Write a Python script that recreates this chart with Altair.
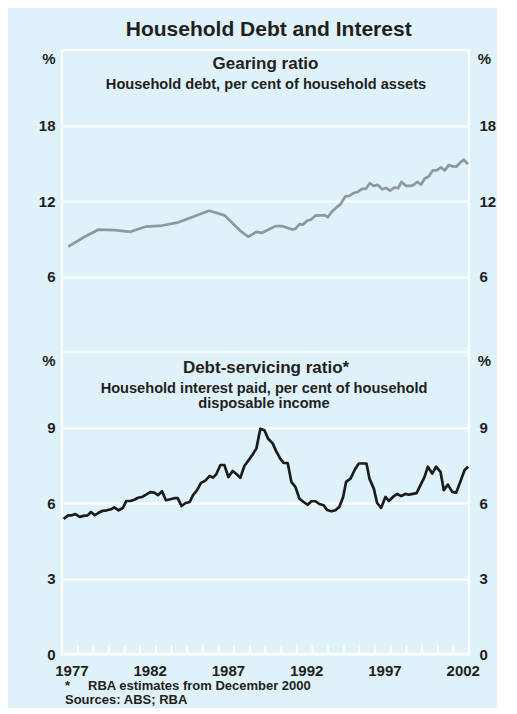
import altair as alt
import pandas as pd

# ---------------- data ----------------
gear_years = [1977.40, 1978.39, 1979.34, 1980.37, 1981.37, 1982.36, 1983.39, 1984.37,
              1985.41, 1986.39, 1987.39, 1988.37, 1988.90, 1989.42, 1989.78, 1990.21,
              1990.63, 1991.10, 1991.38, 1991.70, 1991.91, 1992.17, 1992.38, 1992.66,
              1992.91, 1993.19, 1993.51, 1993.76, 1993.98, 1994.25, 1994.51, 1994.79,
              1995.10, 1995.36, 1995.64, 1995.89, 1996.17, 1996.43, 1996.66, 1996.92,
              1997.17, 1997.45, 1997.70, 1997.96, 1998.23, 1998.47, 1998.68, 1998.98,
              1999.25, 1999.47, 1999.68, 1999.94, 2000.17, 2000.43, 2000.68, 2000.96,
              2001.21, 2001.45, 2001.70, 2001.96, 2002.19, 2002.45, 2002.66, 2002.94]
gear_values = [8.37, 9.12, 9.73, 9.68, 9.55, 9.97, 10.05, 10.28,
               10.76, 11.23, 10.86, 9.65, 9.16, 9.55, 9.47, 9.73,
               10.00, 10.00, 9.87, 9.73, 9.79, 10.16, 10.11, 10.43,
               10.53, 10.83, 10.85, 10.88, 10.72, 11.17, 11.47, 11.73,
               12.37, 12.40, 12.64, 12.72, 12.96, 12.99, 13.41, 13.20,
               13.28, 12.93, 13.04, 12.83, 13.07, 13.01, 13.52, 13.20,
               13.20, 13.28, 13.52, 13.31, 13.79, 13.95, 14.43, 14.45,
               14.67, 14.43, 14.85, 14.75, 14.72, 15.07, 15.28, 14.93]

dsr_years = [1977.10, 1977.40, 1977.64, 1977.85, 1978.13, 1978.38, 1978.64, 1978.85,
             1979.09, 1979.34, 1979.60, 1979.87, 1980.13, 1980.34, 1980.62, 1980.88,
             1981.11, 1981.37, 1981.62, 1981.86, 1982.11, 1982.37, 1982.64, 1982.90,
             1983.13, 1983.39, 1983.64, 1983.92, 1984.17, 1984.39, 1984.64, 1984.90,
             1985.16, 1985.37, 1985.63, 1985.88, 1986.16, 1986.44, 1986.65, 1986.86,
             1987.12, 1987.37, 1987.63, 1987.90, 1988.18, 1988.39, 1988.65, 1988.93,
             1989.18, 1989.42, 1989.67, 1989.93, 1990.17, 1990.46, 1990.67, 1990.95,
             1991.16, 1991.42, 1991.65, 1991.91, 1992.17, 1992.44, 1992.70, 1992.93,
             1993.19, 1993.44, 1993.72, 1993.93, 1994.21, 1994.47, 1994.72, 1994.96,
             1995.15, 1995.43, 1995.71, 1995.96, 1996.22, 1996.45, 1996.64, 1996.92,
             1997.13, 1997.39, 1997.66, 1997.88, 1998.14, 1998.41, 1998.67, 1998.94,
             1999.16, 1999.41, 1999.65, 1999.90, 2000.16, 2000.37, 2000.65, 2000.90,
             2001.18, 2001.39, 2001.65, 2001.93, 2002.18, 2002.46, 2002.72, 2002.95]
dsr_values = [5.37, 5.51, 5.51, 5.56, 5.45, 5.49, 5.51, 5.64,
              5.52, 5.61, 5.69, 5.71, 5.75, 5.83, 5.71, 5.80,
              6.08, 6.08, 6.13, 6.21, 6.24, 6.33, 6.43, 6.41,
              6.31, 6.47, 6.11, 6.15, 6.19, 6.19, 5.88, 6.00,
              6.04, 6.31, 6.51, 6.80, 6.89, 7.08, 7.01, 7.15,
              7.51, 7.51, 7.03, 7.27, 7.13, 7.00, 7.47, 7.71,
              7.93, 8.17, 8.95, 8.89, 8.55, 8.37, 8.07, 7.75,
              7.59, 7.59, 6.84, 6.64, 6.17, 6.04, 5.93, 6.07,
              6.07, 5.96, 5.91, 5.72, 5.67, 5.71, 5.85, 6.24,
              6.84, 6.97, 7.33, 7.57, 7.57, 7.57, 6.97, 6.57,
              6.00, 5.81, 6.24, 6.08, 6.24, 6.36, 6.28, 6.36,
              6.33, 6.36, 6.39, 6.71, 7.04, 7.44, 7.17, 7.44,
              7.24, 6.51, 6.73, 6.44, 6.41, 6.87, 7.31, 7.44]

year_ticks = list(range(1978, 2003))
year_labels = [1977, 1982, 1987, 1992, 1997, 2002]
gear_ticks = [6, 12, 18]
dsr_ticks = [0, 3, 6, 9]
gear_domain = [0, 24]
dsr_domain = [0, 12]
x_domain = [1977, 2003]

title_text = "Household Debt and Interest"
top_title = "Gearing ratio"
top_sub = "Household debt, per cent of household assets"
bot_title = "Debt-servicing ratio*"
bot_sub1 = "Household interest paid, per cent of household"
bot_sub2 = "disposable income"
foot_star = "*"
foot_note = "RBA estimates from December 2000"
foot_src = "Sources: ABS; RBA"

# ---------------- styling ----------------
BG = "#dff1f9"
TXT = "#231f20"
GREY = "#8e989d"
BLACK = "#1c1c1c"
FONT = "Liberation Sans"
W, H = 407, 302

gear_df = pd.DataFrame({"year": gear_years, "value": gear_values})
dsr_df = pd.DataFrame({"year": dsr_years, "value": dsr_values})
tick_df = pd.DataFrame({"year": year_ticks})
label_pos = [y + 0.6 for y in year_labels]

xscale = alt.Scale(domain=x_domain, nice=False, zero=False)


def txt(text, x, y, size, align="center", baseline="alphabetic", **kw):
    return alt.Chart(alt.Data(values=[{}])).mark_text(
        text=text, fontSize=size, fontWeight="bold", font=FONT, color=TXT,
        align=align, baseline=baseline, **kw
    ).encode(x=alt.value(x), y=alt.value(y))


def left_axis(vals):
    return alt.Axis(values=vals, orient="left", grid=True, labelPadding=7, title="")


def right_axis(vals):
    return alt.Axis(values=vals, orient="right", grid=False, labelPadding=10, title="")


# ---------------- top panel ----------------
gscale = alt.Scale(domain=gear_domain, nice=False, zero=False)
gear_line = alt.Chart(gear_df).mark_line(color=GREY, strokeWidth=2.7, strokeJoin="round").encode(
    x=alt.X("year:Q", scale=xscale, axis=None),
    y=alt.Y("value:Q", scale=gscale, axis=left_axis(gear_ticks)),
)
gear_right = alt.Chart(gear_df).mark_line(opacity=0).encode(
    x=alt.X("year:Q", scale=xscale, axis=None),
    y=alt.Y("value:Q", scale=gscale, axis=right_axis(gear_ticks)),
)
# invisible anchor fixing the top-left corner of the whole picture
anchor = alt.Chart(alt.Data(values=[{}])).mark_rule(color=BG, strokeWidth=0.01).encode(
    x=alt.value(-52), x2=alt.value(-51), y=alt.value(-40), y2=alt.value(-40)
)
top = alt.layer(
    gear_line, gear_right,
    txt(title_text, 206.7, -13.7, 21),
    txt(top_title, 203.5, 19, 17),
    txt(top_sub, 204, 38.7, 14.6),
    txt("%", -13, 13.7, 15),
    txt("%", 422.5, 13.7, 15),
    anchor,
).resolve_scale(y="independent").properties(width=W, height=H)

# ---------------- bottom panel ----------------
dscale = alt.Scale(domain=dsr_domain, nice=False, zero=False)
xaxis = alt.Axis(values=label_pos, labelExpr="'' + floor(datum.value)", grid=False,
                 labelPadding=9, labelFlush=False, labelOverlap=False, title="")
dsr_line = alt.Chart(dsr_df).mark_line(color=BLACK, strokeWidth=2.7, strokeJoin="round").encode(
    x=alt.X("year:Q", scale=xscale, axis=xaxis),
    y=alt.Y("value:Q", scale=dscale, axis=left_axis(dsr_ticks)),
)
dsr_right = alt.Chart(dsr_df).mark_line(opacity=0).encode(
    x=alt.X("year:Q", scale=xscale, axis=xaxis),
    y=alt.Y("value:Q", scale=dscale, axis=right_axis(dsr_ticks)),
)
ticks = alt.Chart(tick_df).mark_rule(color="white", strokeWidth=1.8).encode(
    x=alt.X("year:Q", scale=xscale),
    y=alt.value(H),
    y2=alt.value(H - 9),
)
bottom = alt.layer(
    ticks, dsr_line, dsr_right,
    txt(bot_title, 204, 21, 17),
    txt(bot_sub1, 202, 41, 14.6),
    txt(bot_sub2, 202, 55.7, 14.6),
    txt("%", -13, 14, 15),
    txt("%", 422.5, 14, 15),
    txt(foot_star, 3, 338, 13, align="left"),
    txt(foot_note, 26, 338, 13, align="left"),
    txt(foot_src, 3, 352, 13, align="left"),
).resolve_scale(y="independent").properties(width=W, height=H)

chart = alt.vconcat(top, bottom, spacing=0, bounds="flush").properties(
    padding=0, background=BG
).configure_view(
    stroke="white", strokeWidth=2
).configure_axis(
    labelFont=FONT, labelFontSize=15, labelFontWeight="bold", labelColor=TXT,
    ticks=False, domain=False, gridColor="white", gridWidth=2, gridOpacity=1,
    labelFlush=False, labelOverlap=False,
)

chart.save("out.html", embed_options={"renderer": "svg", "actions": False})
